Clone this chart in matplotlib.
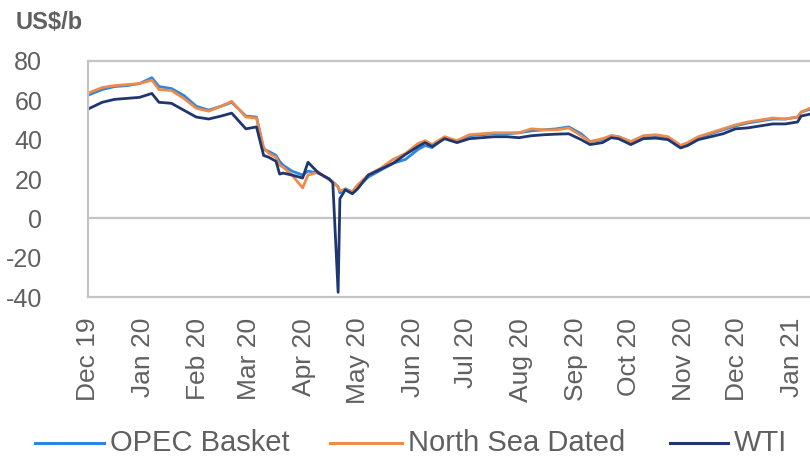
import numpy as np
import pandas as pd
import matplotlib
matplotlib.use('Agg')
import matplotlib.pyplot as plt
import matplotlib.dates as mdates
from matplotlib.lines import Line2D

plt.rcParams['font.family'] = ['Liberation Sans', 'DejaVu Sans']
plt.rcParams['axes.unicode_minus'] = False

# 数据（从图上读出的近似值，US$/b）
dates = pd.to_datetime([
    '2019-12-02', '2019-12-09', '2019-12-16', '2019-12-23', '2019-12-30',
    '2020-01-06', '2020-01-10', '2020-01-17', '2020-01-24', '2020-01-31',
    '2020-02-07', '2020-02-14', '2020-02-20', '2020-02-28', '2020-03-05',
    '2020-03-09', '2020-03-12', '2020-03-16', '2020-03-18', '2020-03-20',
    '2020-03-25', '2020-03-31',
    '2020-04-03', '2020-04-09', '2020-04-15', '2020-04-17', '2020-04-20',
    '2020-04-21', '2020-04-24', '2020-04-28', '2020-05-01', '2020-05-07',
    '2020-05-14', '2020-05-21', '2020-05-28', '2020-06-04', '2020-06-08',
    '2020-06-12', '2020-06-19', '2020-06-26', '2020-07-03', '2020-07-10',
    '2020-07-17', '2020-07-24', '2020-07-31', '2020-08-07', '2020-08-14',
    '2020-08-21', '2020-08-28', '2020-09-04', '2020-09-09', '2020-09-16',
    '2020-09-21', '2020-09-25', '2020-10-02', '2020-10-09', '2020-10-16',
    '2020-10-23', '2020-10-30', '2020-11-03', '2020-11-09', '2020-11-16',
    '2020-11-23', '2020-11-30', '2020-12-07', '2020-12-14', '2020-12-21',
    '2020-12-28', '2021-01-04', '2021-01-06', '2021-01-11'])

opec = [63, 65.5, 67, 67.5, 68.5,
        71.5, 67, 66, 62.5, 57,
        55, 57, 59, 52, 51.5,
        35, 34, 32, 29, 27,
        24, 22,
        24, 23, 20, 18.5, 16,
        13, 15, 13.5, 16, 21,
        24.5, 28, 30, 35, 37,
        36, 41, 39, 42, 42.5,
        43, 43, 43.5, 44.5, 45,
        45.5, 46.5, 43, 39, 40,
        42, 41.5, 39, 41.5, 42,
        41, 37, 38, 41, 43,
        45, 47, 48.5, 49.5, 50.5,
        50.5, 51.5, 54, 55.5]

north_sea = [64, 66.5, 67.5, 68, 68.5,
             70.3, 65.5, 65, 61, 56,
             54.5, 57, 59.5, 51.5, 51,
             36, 33, 31, 27, 26,
             22, 15.5,
             22, 23.5, 19.5, 18.5, 16,
             14, 14.5, 13.5, 17, 22,
             25.5, 30, 33, 38, 39.5,
             37.5, 41.5, 39.5, 42.5, 43,
             43.5, 43.5, 43.5, 45.5, 45,
             45, 46, 42, 39, 40.5,
             42, 41.5, 39, 42, 42.5,
             41.5, 37, 38.5, 41.5, 43.5,
             45.5, 47.5, 49, 50, 51,
             50.5, 51.5, 54, 56]

wti = [56, 59, 60.5, 61, 61.5,
       63.5, 59, 58.5, 55, 51.5,
       50.5, 52, 53.5, 45.5, 46.5,
       32, 31, 29, 22.5, 23,
       22, 20.5,
       28.5, 23, 20, 18, -37.6,
       10, 14.5, 12.5, 15, 22,
       25, 28, 32.5, 36.5, 38.5,
       36.5, 40.5, 38.5, 40.5, 41,
       41.5, 41.5, 41, 42, 42.5,
       42.8, 43, 40, 37.5, 38.5,
       41, 40.5, 37.5, 40.5, 40.8,
       40, 35.8, 37, 40, 41.5,
       43, 45.5, 46, 47, 48,
       48, 49, 52, 53]

series_names = ['OPEC Basket', 'North Sea Dated', 'WTI']
series_colors = ['#2a86de', '#ee8a4a', '#1f3670']
text_color = '#606060'
grid_color = '#c4c4c4'

fig = plt.figure(figsize=(8.1, 4.59), dpi=100)
ax = fig.add_axes([88 / 810, 1 - 297 / 459, 1 - 88 / 810, (297 - 61) / 459])

for vals, c in zip([opec, north_sea, wti], series_colors):
    ax.plot(dates, vals, color=c, lw=2.0, solid_joinstyle='round')

ax.set_ylim(-40, 80)
ax.set_yticks(np.arange(-40, 81, 20))
ax.set_xlim(pd.Timestamp('2019-12-01'), pd.Timestamp('2021-01-11'))
ax.xaxis.set_major_locator(mdates.MonthLocator())
ax.xaxis.set_major_formatter(mdates.DateFormatter('%b %y'))

ax.axhline(0, color=grid_color, lw=1.6, zorder=0)
for s in ['top', 'bottom', 'left']:
    ax.spines[s].set_color(grid_color)
    ax.spines[s].set_linewidth(1.6)
ax.spines['right'].set_visible(False)

ax.tick_params(axis='y', length=0, pad=33, labelsize=18, labelcolor=text_color)
ax.tick_params(axis='x', length=0, pad=15, labelsize=19, labelcolor=text_color,
               labelrotation=90)
for lab in ax.get_xticklabels():
    lab.set_horizontalalignment('center')

fig.text(16 / 810, 1 - 11 / 459, 'US$/b', fontsize=17, fontweight='bold',
         color=text_color, va='top', ha='left')

# 图例（手动排布）
legend_y = 1 - 443 / 459
handle_spans = [(35, 104), (330, 402), (670, 728)]
text_x = [110, 408, 734]
for (x0, x1), tx, c, name in zip(handle_spans, text_x, series_colors, series_names):
    fig.add_artist(Line2D([x0 / 810, x1 / 810], [legend_y, legend_y], color=c, lw=2.2))
    fig.text(tx / 810, legend_y, name, fontsize=21, color=text_color,
             va='center', ha='left')

plt.savefig('out.png', dpi=100)
